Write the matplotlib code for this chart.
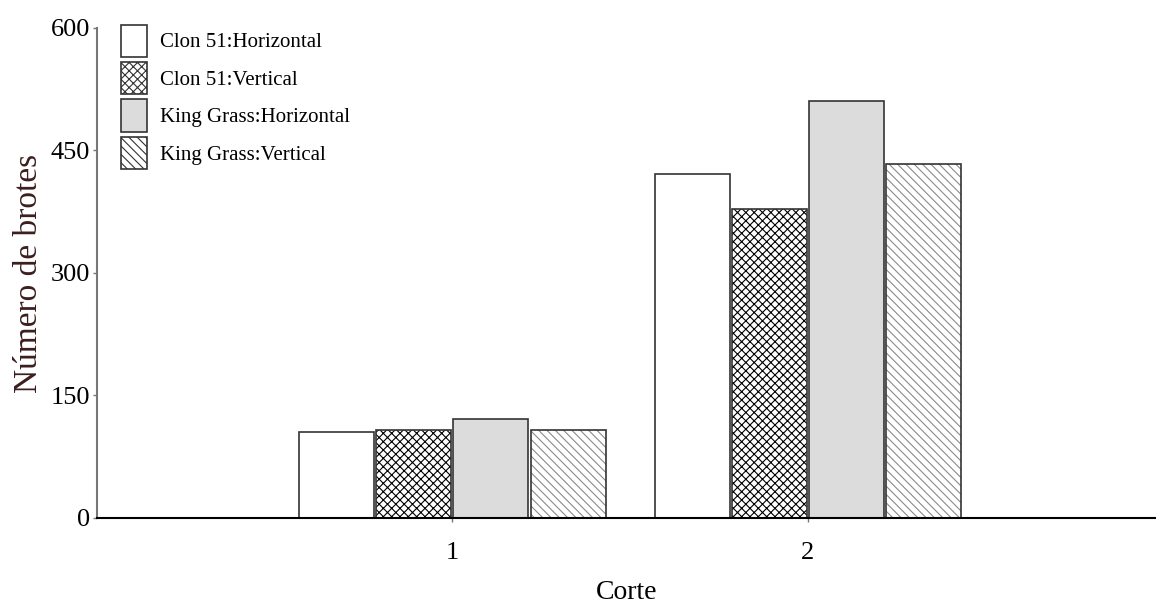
import matplotlib.pyplot as plt
import numpy as np
from matplotlib.patches import Patch

plt.rcParams['font.family'] = ['Liberation Serif', 'DejaVu Serif']
plt.rcParams['hatch.linewidth'] = 0.8

cortes = ['1', '2']
series = ['Clon 51:Horizontal', 'Clon 51:Vertical',
          'King Grass:Horizontal', 'King Grass:Vertical']
clon51_h = [105, 421]
clon51_v = [108, 378]
kg_h = [121, 511]
kg_v = [108, 433]

values = [clon51_h, clon51_v, kg_h, kg_v]
faces = ['white', 'white', '#dcdcdc', 'white']
hatches = [None, 'xxxx', None, '\\\\\\\\']
hatch_cols = ['black', 'black', 'black', '#8a8a8a']

fig = plt.figure(figsize=(11.56, 6.03), dpi=100)
ax = fig.add_axes([0.0839, 0.141, 0.9161, 0.8126])

x = np.arange(1, len(cortes) + 1)
width = 0.211
step = 0.217
for i, (vals, fc, h, hc) in enumerate(zip(values, faces, hatches, hatch_cols)):
    offset = (i - 1.5) * step
    ax.bar(x + offset, vals, width, facecolor=fc, edgecolor=hc,
           hatch=h, linewidth=0, label=series[i])
    # outline drawn separately so the hatch colour can differ
    ax.bar(x + offset, vals, width, facecolor='none', edgecolor='#333333',
           linewidth=1.2)

ax.set_xlim(0, 2.98)
ax.set_ylim(0, 600)
ax.set_xticks(x)
ax.set_xticklabels(cortes)
ax.set_yticks([0, 150, 300, 450, 600])

ax.spines['top'].set_visible(False)
ax.spines['right'].set_visible(False)
ax.spines['left'].set_color('#777777')
ax.spines['left'].set_linewidth(1.5)
ax.spines['bottom'].set_color('black')
ax.spines['bottom'].set_linewidth(1.5)
ax.tick_params(axis='both', labelsize=19, length=3, width=1, color='#777777')
ax.tick_params(axis='y', pad=2)
ax.tick_params(axis='x', pad=14)

ax.set_xlabel('Corte', fontsize=20, labelpad=12)
ax.set_ylabel('Número de brotes', fontsize=24, color='#3b1f1f', labelpad=5)

handles = [Patch(facecolor=fc, edgecolor='#333333', hatch=h, linewidth=1.2, label=s)
           for s, fc, h in zip(series, faces, hatches)]
leg = ax.legend(handles=handles, loc='upper left', bbox_to_anchor=(0.005, 1.045),
                frameon=False, fontsize=15, handlelength=1.25, handleheight=2.0,
                handletextpad=0.6, labelspacing=0.25)

fig.savefig('out.png', dpi=100)
